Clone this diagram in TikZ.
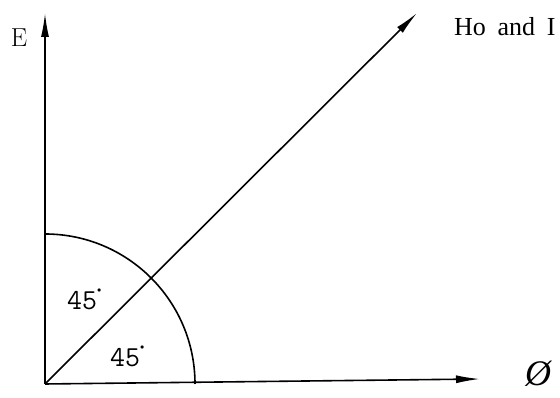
\documentclass[tikz,border=0pt]{standalone}
\usepackage{fontspec}
\newfontfamily\timesfont{Liberation Serif}
\usetikzlibrary{arrows.meta}

\begin{document}
\begin{tikzpicture}[x=1pt,y=1pt,every node/.style={inner sep=0pt},axis/.style={-{Latex[length=24pt,width=8pt]},line width=1.6pt},quarter/.style={line width=1.6pt},anglelabel/.style={anchor=base west,font=\fontsize{29}{30}\selectfont\ttfamily},axislabel/.style={font=\fontsize{26}{28}\selectfont}]
\useasboundingbox (0,0) rectangle (560,398);
\coordinate (origin) at (45,14);
\coordinate (etop) at (45,385);
\coordinate (phiend) at (480,19);
\coordinate (diagend) at (417,385);
\coordinate (arctop) at (45,164);
\draw[axis](origin)--(etop);\draw[axis](origin)--(phiend);\draw[axis](origin)--(diagend);
\draw[quarter](arctop) arc[start angle=90,end angle=0,radius=150];
\node[axislabel](elabel) at (19,360){E};
\node[axislabel,font=\fontsize{36}{38}\selectfont\timesfont\itshape](philabel) at (538,24){Ø};
\node[anchor=base west,font=\fontsize{26}{28}\selectfont\timesfont](header) at (454,362){Ho\hspace{0.45em}and\hspace{0.45em}I};
\node[anglelabel](upper) at (67,88){45\raisebox{0.62em}{\fontsize{8}{8}\selectfont$\bullet$}};
\node[anglelabel](lower) at (110,31){45\raisebox{0.62em}{\fontsize{8}{8}\selectfont$\bullet$}};
\end{tikzpicture}
\end{document}
